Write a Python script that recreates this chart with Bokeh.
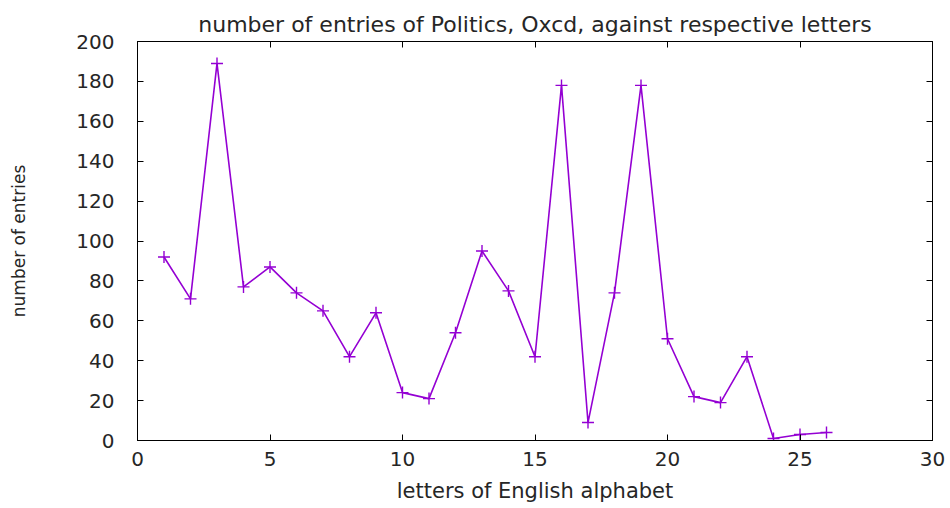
from bokeh.plotting import figure
from bokeh.models import LinearAxis, Range1d, FixedTicker
from bokeh.embed import file_html
from bokeh.resources import INLINE

# Data
letters = list(range(1, 27))
entries = [92, 71, 189, 77, 87, 74, 65, 42, 64, 24, 21, 54, 95, 75, 42,
           178, 9, 74, 178, 51, 22, 19, 42, 1, 3, 4]
x_ticks = [0, 5, 10, 15, 20, 25, 30]
y_ticks = [0, 20, 40, 60, 80, 100, 120, 140, 160, 180, 200]

title_text = "number of entries of Politics, Oxcd, against respective letters"
x_label = "letters of English alphabet"
y_label = "number of entries"

FONT = "DejaVu Sans"
TXT = "#262626"
LINE = "#9400D3"

p = figure(frame_width=795, frame_height=399,
           x_range=Range1d(0, 30), y_range=Range1d(0, 200),
           output_backend="svg", toolbar_location=None,
           min_border_left=137, min_border_top=41,
           min_border_right=14, min_border_bottom=62,
           title=title_text)

p.title.text_font = FONT
p.title.text_font_size = "22px"
p.title.text_font_style = "normal"
p.title.text_color = TXT
p.title.align = "center"
p.title.standoff = 10

p.grid.visible = False
p.outline_line_color = "black"
p.outline_line_width = 1
p.background_fill_color = "white"
p.border_fill_color = "white"

for ax in (p.xaxis[0], p.yaxis[0]):
    ax.major_label_text_font = FONT
    ax.major_label_text_font_size = "20px"
    ax.major_label_text_color = TXT
    ax.axis_label_text_font = FONT
    ax.axis_label_text_font_size = "21px"
    ax.axis_label_text_font_style = "normal"
    ax.axis_label_text_color = TXT
    ax.major_tick_in = 6
    ax.major_tick_out = 0
    ax.minor_tick_in = 0
    ax.minor_tick_out = 0
    ax.axis_line_color = "black"
    ax.major_tick_line_color = "black"

p.xaxis[0].ticker = FixedTicker(ticks=x_ticks)
p.yaxis[0].ticker = FixedTicker(ticks=y_ticks)
p.xaxis[0].axis_label = x_label
p.yaxis[0].axis_label = y_label
p.xaxis[0].major_label_standoff = 11
p.xaxis[0].axis_label_standoff = 10
p.yaxis[0].major_label_standoff = 23
p.yaxis[0].axis_label_standoff = 44
p.yaxis[0].axis_label_text_font_size = "17px"

# mirrored tick marks on top and right
top = LinearAxis(ticker=FixedTicker(ticks=x_ticks),
                 major_label_overrides={t: "" for t in x_ticks})
right = LinearAxis(ticker=FixedTicker(ticks=y_ticks),
                   major_label_overrides={t: "" for t in y_ticks})
for ax in (top, right):
    ax.major_tick_in = 6
    ax.major_tick_out = 0
    ax.minor_tick_in = 0
    ax.minor_tick_out = 0
    ax.major_label_standoff = 0
    ax.major_label_text_font_size = "1px"
    ax.axis_line_color = "black"
p.add_layout(top, "above")
p.add_layout(right, "right")

p.line(letters, entries, line_color=LINE, line_width=1.6)
p.scatter(letters, entries, marker="cross", size=12,
          line_color=LINE, line_width=1.4)

open("out.html", "w").write(file_html(p, INLINE))
